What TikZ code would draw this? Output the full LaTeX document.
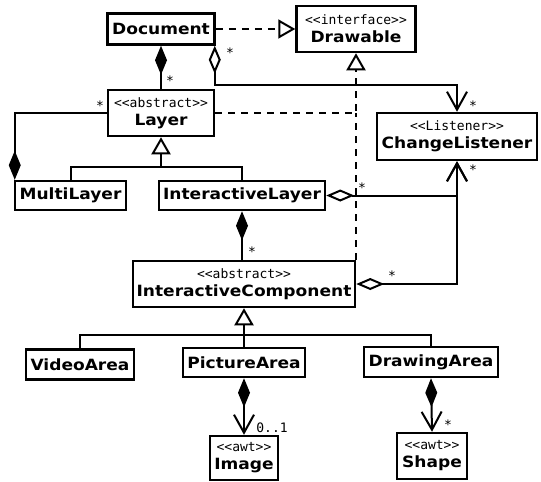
\documentclass[tikz,border=0pt]{standalone}
\usepackage{fontspec}
\setmainfont{DejaVu Sans}[FakeStretch=1.1]
\setmonofont{DejaVu Sans Mono}
\usepackage{tikz}
\usetikzlibrary{arrows.meta, positioning}

\tikzset{
    classbox/.style={draw, line width=2.5pt, inner sep=0pt, align=center,
        font=\fontsize{15.5}{18}\selectfont\bfseries},
    mult/.style={font=\fontsize{13}{15}\selectfont\ttfamily, inner sep=0pt},
    link/.style={line width=2pt, line join=miter},
    realize/.style={link, dash pattern=on 7pt off 6pt, -{Triangle[open, length=17pt, width=19pt, line width=2pt]}},
    inherit/.style={link, -{Triangle[open, length=17pt, width=19pt, line width=2pt]}},
    compose/.style={link, {Diamond[length=29pt, width=12pt]}-},
    composenav/.style={link, {Diamond[length=29pt, width=12pt]}-{Straight Barb[length=18pt, width=20pt, line width=2pt]}},
    aggreg/.style={link, {Diamond[open, length=28pt, width=12pt, line width=2pt]}-{Straight Barb[length=18pt, width=20pt, line width=2pt]}}
}
\newcommand{\stype}[1]{{\fontsize{13}{15}\selectfont\ttfamily\mdseries <<#1>>}}

\begin{document}
\begin{tikzpicture}[x=1pt, y=-1pt]
        \useasboundingbox (0,0) rectangle (541,482);

        % The classes
        \node[classbox, minimum width=107pt, minimum height=31pt] (doc) at (161,29) {Document};
        \node[classbox, minimum width=119pt, minimum height=46pt] (drawable) at (356,29) {\stype{interface}\\Drawable};
        \node[classbox, minimum width=106pt, minimum height=46pt] (layer) at (161,113) {\stype{abstract}\\Layer};
        \node[classbox, minimum width=160pt, minimum height=47pt] (listener) at (457,136.5) {\stype{Listener}\\ChangeListener};
        \node[classbox, minimum width=111pt, minimum height=29pt] (multi) at (70.5,195.5) {MultiLayer};
        \node[classbox, minimum width=166pt, minimum height=29pt] (ilayer) at (242,195.5) {InteractiveLayer};
        \node[classbox, minimum width=222pt, minimum height=46pt] (icomp) at (244,284) {\stype{abstract}\\InteractiveComponent};
        \node[classbox, minimum width=108pt, minimum height=30pt] (video) at (80,364.5) {VideoArea};
        \node[classbox, minimum width=122pt, minimum height=29pt] (picture) at (244,362.5) {PictureArea};
        \node[classbox, minimum width=134pt, minimum height=30pt] (drawing) at (431,362) {DrawingArea};
        \node[classbox, minimum width=68pt, minimum height=44pt] (image) at (244,458) {\stype{awt}\\Image};
        \node[classbox, minimum width=70pt, minimum height=46pt] (shape) at (432,456) {\stype{awt}\\Shape};

        % Rails where lines meet
        \coordinate (docrail) at (0,85);
        \coordinate (layerjoin) at (161,167);
        \coordinate (areajoin) at (244,335);

        % Document
        \draw[realize] (doc.east) -- (drawable.west);
        \draw[compose] (doc.south) -- (layer.north);
        \draw[aggreg] ([xshift=-1pt]doc.south east) |- (docrail -| listener.north) -- (listener.north);

        % Layer and its subclasses
        \draw[realize] (layer.east) -| (drawable.south);
        \draw[inherit] (layerjoin) -- (layer.south);
        \draw[link] (multi.north) |- (layerjoin) -| (ilayer.north);
        \draw[compose] ([xshift=1pt]multi.north west) |- (layer.west);

        % InteractiveLayer and InteractiveComponent
        \draw[aggreg] (ilayer.east) -| (listener.south);
        \draw[compose] (ilayer.south) -- (ilayer.south |- icomp.north);
        \draw[aggreg] (icomp.east) -| (listener.south);
        \draw[link, dash pattern=on 7pt off 6pt] (icomp.north east) -- (icomp.north east |- layer.east);

        % The areas
        \draw[inherit] (areajoin) -- (icomp.south);
        \draw[link] (video.north) |- (areajoin) -| (drawing.north);
        \draw[link] (picture.north) -- (areajoin);
        \draw[composenav] (picture.south) -- (image.north);
        \draw[composenav] (drawing.south) -- (shape.north);

        % Multiplicities
        \node[mult] (mdocagg) at (230,53) {*};
        \node[mult] (mlayertop) at (170,81) {*};
        \node[mult] (mlayerleft) at (100,106) {*};
        \node[mult] (mlisttop) at (473,106) {*};
        \node[mult] (mlistbot) at (473,170) {*};
        \node[mult] (milayer) at (362,188) {*};
        \node[mult] (micomp) at (392,276) {*};
        \node[mult] (micomptop) at (252,252) {*};
        \node[mult] (mimage) at (272,428) {0..1};
        \node[mult] (mshape) at (448,425) {*};
    \end{tikzpicture}
\end{document}
